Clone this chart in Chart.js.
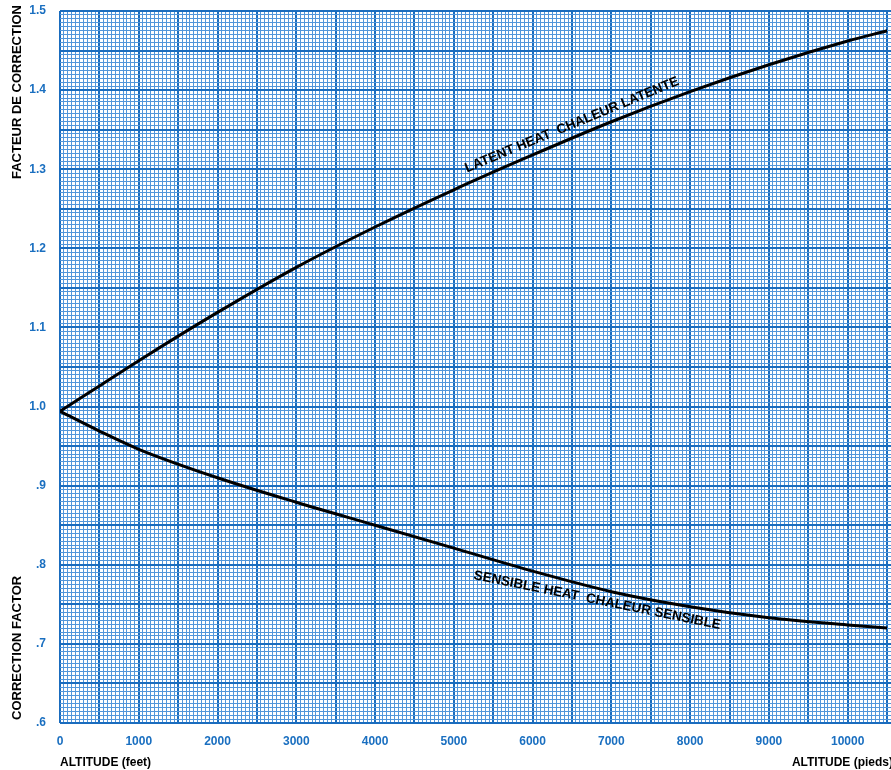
<!DOCTYPE html>
<html>
<head>
<meta charset="utf-8">
<script src="https://cdn.jsdelivr.net/npm/chart.js@4.4.1/dist/chart.umd.min.js"></script>
<style>
  html, body { margin: 0; padding: 0; background: #fff; }
  #wrap { width: 891px; height: 770px; position: relative; }
</style>
</head>
<body>
<div id="wrap"><canvas id="chart"></canvas></div>
<script>
const altitude = [0, 500, 1000, 2000, 3000, 4000, 5000, 6000, 7000, 8000, 9000, 10000, 10500];
const latent   = [0.994, 1.026, 1.058, 1.119, 1.176, 1.227, 1.274, 1.318, 1.360, 1.398, 1.432, 1.462, 1.475];
const sensible = [0.994, 0.969, 0.946, 0.910, 0.879, 0.850, 0.821, 0.792, 0.766, 0.747, 0.733, 0.724, 0.720];
const yLabels = ['.6', '.7', '.8', '.9', '1.0', '1.1', '1.2', '1.3', '1.4', '1.5'];

const blue = '#1a6fc0';
const minorCol = '#5296da';
const majorCol = '#1a6cbe';
const font = "'Liberation Sans', Arial, sans-serif";

function pts(ys) {
  return altitude.map((x, i) => ({ x: x, y: ys[i] }));
}

// labels along the curves, anchored in data units
const curveLabels = [
  { text: 'LATENT HEAT  CHALEUR LATENTE', x: 6500, y: 1.356, angle: -22.5 },
  { text: 'SENSIBLE HEAT  CHALEUR SENSIBLE', x: 6820, y: 0.755, angle: 11.5 }
];

const textPlugin = {
  id: 'texts',
  afterDraw(chart) {
    const c = chart.ctx;
    const xs = chart.scales.x, ys = chart.scales.y;
    c.save();
    c.fillStyle = '#000';
    c.font = 'bold 13.5px ' + font;
    c.textBaseline = 'middle';
    curveLabels.forEach(l => {
      c.save();
      c.translate(xs.getPixelForValue(l.x), ys.getPixelForValue(l.y));
      c.rotate(l.angle * Math.PI / 180);
      c.textAlign = 'center';
      c.fillText(l.text, 0, 0);
      c.restore();
    });

    // axis titles
    c.font = 'bold 13px ' + font;
    c.save();
    c.translate(17, 5);
    c.rotate(-Math.PI / 2);
    c.textAlign = 'right';
    c.fillText('FACTEUR DE CORRECTION', 0, 0);
    c.restore();
    c.save();
    c.translate(17, 720);
    c.rotate(-Math.PI / 2);
    c.textAlign = 'left';
    c.fillText('CORRECTION FACTOR', 0, 0);
    c.restore();

    c.font = 'bold 12px ' + font;
    c.textAlign = 'left';
    c.fillText('ALTITUDE (feet)', 60, 763);
    c.textAlign = 'right';
    c.fillText('ALTITUDE (pieds)', 893, 763);
    c.restore();
  }
};

new Chart(document.getElementById('chart'), {
  type: 'line',
  data: {
    datasets: [
      { label: 'Latent', data: pts(latent), borderColor: '#000', borderWidth: 3, pointRadius: 0, cubicInterpolationMode: 'monotone', fill: false },
      { label: 'Sensible', data: pts(sensible), borderColor: '#000', borderWidth: 3, pointRadius: 0, cubicInterpolationMode: 'monotone', fill: false }
    ]
  },
  options: {
    responsive: true,
    maintainAspectRatio: false,
    animation: false,
    layout: { padding: { top: 11, right: 0, left: 0, bottom: 0 } },
    plugins: { legend: { display: false }, tooltip: { enabled: false } },
    scales: {
      x: {
        type: 'linear',
        min: 0,
        max: 10550,
        border: { display: false },
        grid: {
          drawTicks: false,
          color: ctx => (ctx.tick && ctx.tick.value % 500 === 0) ? majorCol : minorCol,
          lineWidth: ctx => (ctx.tick && ctx.tick.value % 500 === 0) ? 2 : 1
        },
        ticks: {
          stepSize: 50,
          autoSkip: false,
          maxRotation: 0,
          padding: 11,
          color: blue,
          font: { family: font, size: 12, weight: 'bold' },
          callback: v => (v % 1000 === 0) ? String(v) : ''
        },
        afterFit: s => { s.height = 47; s.paddingLeft = 0; s.paddingRight = 0; }
      },
      y: {
        type: 'linear',
        min: 0.6,
        max: 1.5,
        border: { display: false },
        grid: {
          drawTicks: false,
          color: ctx => (ctx.tick && Math.round(ctx.tick.value * 1000) % 50 === 0) ? majorCol : minorCol,
          lineWidth: ctx => (ctx.tick && Math.round(ctx.tick.value * 1000) % 50 === 0) ? 2 : 1
        },
        ticks: {
          stepSize: 0.005,
          autoSkip: false,
          padding: 14,
          color: blue,
          font: { family: font, size: 12, weight: 'bold' },
          callback: v => {
            const k = Math.round(v * 1000);
            return (k % 100 === 0) ? yLabels[(k - 600) / 100] : '';
          }
        },
        afterFit: s => { s.width = 60; s.paddingTop = 0; s.paddingBottom = 0; }
      }
    }
  },
  plugins: [textPlugin]
});
</script>
</body>
</html>
